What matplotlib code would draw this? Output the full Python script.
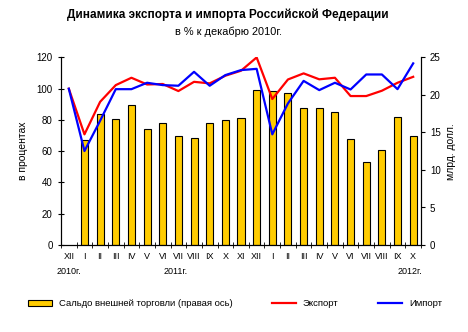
import numpy as np
import matplotlib
matplotlib.use("Agg")
import matplotlib.pyplot as plt
from matplotlib.patches import Patch
from matplotlib.lines import Line2D

plt.rcParams['font.family'] = ['Liberation Sans', 'DejaVu Sans']

# ---------- данные ----------
months = ["XII", "I", "II", "III", "IV", "V", "VI", "VII", "VIII", "IX", "X", "XI",
          "XII", "I", "II", "III", "IV", "V", "VI", "VII", "VIII", "IX", "X"]

# сальдо, млрд. долл. (правая ось); в XII 2010 столбца нет
saldo = [np.nan, 14.0, 17.5, 16.8, 18.7, 15.5, 16.3, 14.5, 14.3, 16.3, 16.6, 16.9,
         20.6, 20.5, 20.3, 18.3, 18.3, 17.7, 14.1, 11.0, 12.6, 17.1, 14.5]

export = [100, 70.8, 91.6, 102.3, 107, 102.7, 103, 98.5, 104.4, 103.4, 108.3, 111.5,
          120, 93.4, 105.9, 109.8, 106, 107, 95.3, 95.3, 98.7, 103.8, 107.6]

imports = [100, 60.1, 79.5, 99.7, 99.7, 103.8, 102.3, 101.9, 110.8, 101.9, 108.7, 111.9,
           112.7, 70.8, 90.6, 105, 99.1, 103.8, 99.5, 109.1, 109.1, 99.7, 116.2]

years = [(0, "2010г."), (6.8, "2011г."), (21.8, "2012г.")]

# ---------- рисунок ----------
fig = plt.figure(figsize=(4.68, 3.32), dpi=100)
ax = fig.add_axes([0.1303, 0.262, 0.7693, 0.565])
ax2 = ax.twinx()

x = np.arange(len(months))

ax2.bar(x, saldo, width=0.45, color='#FFCC00', edgecolor='black', linewidth=0.8)
ax2.set_ylim(0, 25)
ax2.set_yticks(np.arange(0, 26, 5))

ax.plot(x, export, color='#FF0000', lw=1.6)
ax.plot(x, imports, color='#0000FF', lw=1.6)
ax.set_ylim(0, 120)
ax.set_yticks(np.arange(0, 121, 20))
ax.set_xlim(-0.5, len(months) - 0.5)

ax.set_zorder(ax2.get_zorder() + 1)
ax.patch.set_visible(False)

for a in (ax, ax2):
    a.spines['top'].set_visible(False)
    a.tick_params(labelsize=7, width=0.8, length=3, colors='black')

ax.set_xticks(x)
ax.set_xticklabels(months, fontsize=6.5)
ax.tick_params(axis='x', length=0, pad=5)
ax.set_xticks(np.arange(-0.5, len(months), 1), minor=True)
ax.tick_params(axis='x', which='minor', length=4, direction='inout')
ax.tick_params(axis='y', direction='inout', length=5)

ax.set_ylabel("в процентах", fontsize=7.5, labelpad=6)
ax2.set_ylabel("млрд. долл.", fontsize=7.5, rotation=90, labelpad=4)

for xp, txt in years:
    ax.text(xp, -14, txt, ha='center', va='top', fontsize=6.5)

fig.text(0.487, 0.955, "Динамика экспорта и импорта Российской Федерации",
         ha='center', va='center', fontsize=8.5, fontweight='bold')
fig.text(0.489, 0.905, "в % к декабрю 2010г.", ha='center', va='center', fontsize=7.9)

# легенда: три отдельных элемента, как в оригинале
legend_items = [
    (Patch(facecolor='#FFCC00', edgecolor='black', linewidth=0.8),
     "Сальдо внешней торговли (правая ось)", 0.060),
    (Line2D([], [], color='#FF0000', lw=1.6), "Экспорт", 0.581),
    (Line2D([], [], color='#0000FF', lw=1.6), "Импорт", 0.808),
]
for h, lab, xa in legend_items:
    fig.legend([h], [lab], loc='center left', bbox_to_anchor=(xa, 0.085),
               frameon=False, fontsize=6.8, handlelength=2.5,
               handletextpad=0.75, borderpad=0, borderaxespad=0)

fig.savefig("out.png", dpi=100)
